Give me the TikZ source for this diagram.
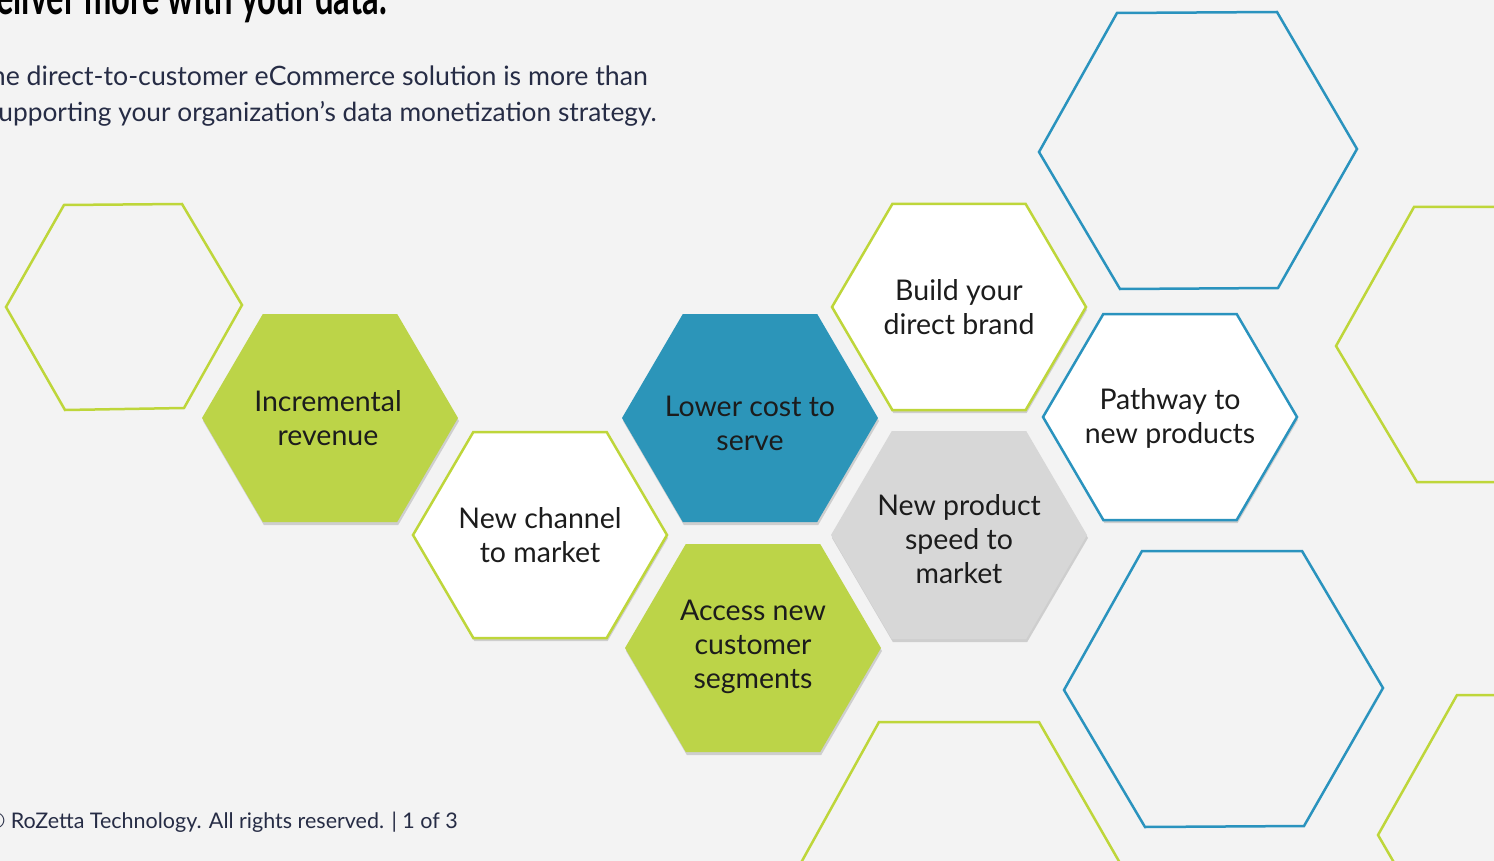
\documentclass[tikz,border=0pt]{standalone}
\usepackage{fontspec}
\usepackage{graphicx}
\setmainfont{Lato}
\usetikzlibrary{shadows}
\definecolor{bg}{HTML}{F3F3F3}
\definecolor{lime}{HTML}{BCD448}
\definecolor{limeline}{HTML}{BED63A}
\definecolor{teal}{HTML}{2C95B9}
\definecolor{tealline}{HTML}{2A93BE}
\definecolor{greyfill}{HTML}{D7D7D7}
\definecolor{navy}{HTML}{262C45}
\definecolor{ink}{HTML}{1C1C1C}
\newcommand\hexat[4]{({#1-#3},#2) -- ({#1-0.525*#3},{#2-#4}) -- ({#1+0.525*#3},{#2-#4}) -- ({#1+#3},#2) -- ({#1+0.525*#3},{#2+#4}) -- ({#1-0.525*#3},{#2+#4}) -- cycle}
\tikzset{
  hextext/.style={align=center, text=ink, font=\fontsize{28.5}{34}\selectfont},
  hshadow/.style={drop shadow={shadow xshift=1pt, shadow yshift=-3pt, opacity=0.15, fill=black}},
  greenhex/.style={fill=lime, hshadow},
  bluehex/.style={fill=teal, hshadow},
  greyhex/.style={fill=greyfill, hshadow},
  whitegreen/.style={fill=white, draw=limeline, line width=2.5pt, line join=miter, hshadow},
  whiteblue/.style={fill=white, draw=tealline, line width=2.5pt, line join=miter, hshadow},
  greenline/.style={draw=limeline, line width=2.5pt, line join=miter},
  blueline/.style={draw=tealline, line width=2.5pt, line join=miter},
}
\begin{document}
\begin{tikzpicture}[x=1pt,y=-1pt]
\useasboundingbox (0,0) rectangle (1494,861);
\fill[bg] (0,0) rectangle (1494,861);
\clip (0,0) rectangle (1494,861);

% outline hexagons
\draw[greenline] (64,205) -- (182,204) -- (242,305) -- (184,408) -- (65,410) -- (6,307) -- cycle;
\draw[blueline] (1117,13) -- (1277,12) -- (1357,149) -- (1278,288) -- (1120,289) -- (1039,152) -- cycle;
\draw[blueline] (1142,551) -- (1302,551) -- (1383,688) -- (1304,826) -- (1145,827) -- (1064,690) -- cycle;
\draw[greenline] (1510,207) -- (1414,207) -- (1336,346) -- (1417,482) -- (1510,482);
\draw[greenline] (1510,695) -- (1457,695) -- (1378,835) -- (1396,866);
\draw[greenline] (797,870) -- (879,722) -- (1039,722) -- (1124,870);

% labelled hexagons
\fill[greenhex] \hexat{330}{418}{128}{104};
\filldraw[whitegreen] \hexat{540}{535}{127}{103};
\fill[bluehex] \hexat{750}{418}{128}{104};
\filldraw[whitegreen] \hexat{959}{307}{127}{103};
\fill[greyhex] \hexat{959}{535}{128}{104};
\fill[greenhex] \hexat{753}{648}{128}{104};
\filldraw[whiteblue] \hexat{1170}{417}{127}{103};

\node[hextext] (inc) at (328,418) {Incremental\\revenue};
\node[hextext] (chan) at (540,535) {New channel\\to market};
\node[hextext] (cost) at (750,423) {Lower cost to\\serve};
\node[hextext] (brand) at (959,307) {Build your\\direct brand};
\node[hextext] (speed) at (959,539) {New product\\speed to\\market};
\node[hextext] (seg) at (753,647) {Access new\\customer\\segments};
\node[hextext] (path) at (1170,418) {Pathway to\\new products};

% header texts
\node[anchor=base east, inner sep=0pt, text=black, font=\bfseries\fontsize{50}{50}\selectfont] (title) at (387,15) {\scalebox{0.655}[1]{Deliver more with your data.}};
\node[anchor=base east, inner sep=0pt, text=navy, font=\fontsize{26.7}{26.7}\selectfont] (sub1) at (648,86) {The direct-to-customer eCommerce solution is more than};
\node[anchor=base east, inner sep=0pt, text=navy, font=\fontsize{26.3}{26.3}\selectfont] (sub2) at (657,122) {supporting your organization’s data monetization strategy.};
\node[anchor=base east, inner sep=0pt, text=navy, font=\fontsize{21.5}{21.5}\selectfont] (foot) at (458,828) {© RoZetta Technology. All rights reserved. | 1 of 3};
\end{tikzpicture}
\end{document}
